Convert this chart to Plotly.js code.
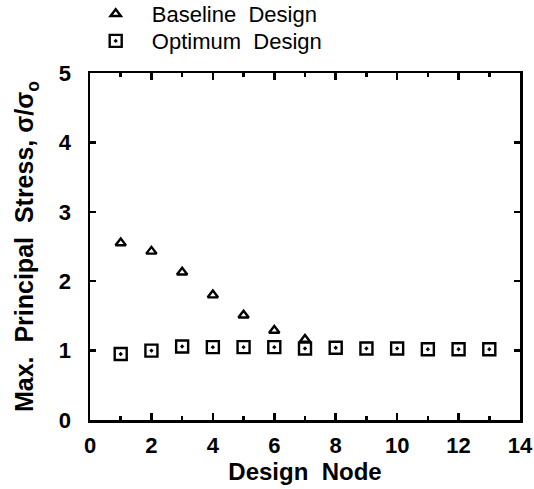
<!DOCTYPE html>
<html>
<head>
<meta charset="utf-8">
<script src="https://cdn.plot.ly/plotly-3.0.1.min.js"></script>
<style>html,body{margin:0;padding:0;background:#fff;}#chart{width:534px;height:489px;}</style>
</head>
<body>
<div id="chart"></div>
<script>
var baselineNodes = [1, 2, 3, 4, 5, 6, 7];
var baselineStress = [2.55, 2.43, 2.13, 1.80, 1.51, 1.29, 1.16];
var optimumNodes = [1, 2, 3, 4, 5, 6, 7, 8, 9, 10, 11, 12, 13];
var optimumStress = [0.95, 1.00, 1.06, 1.05, 1.05, 1.05, 1.03, 1.04, 1.03, 1.03, 1.02, 1.02, 1.02];

var S = '\u00A0';
var FONT = 'Liberation Sans, Arial, Helvetica, sans-serif';

var traces = [
  {x: baselineNodes, y: baselineStress, name: S + 'Baseline' + S + S + 'Design', mode: 'markers', type: 'scatter',
   legend: 'legend',
   marker: {symbol: 'triangle-up-open', size: 9, color: '#000', line: {width: 2.4, color: '#000'}}},
  {x: optimumNodes, y: optimumStress, name: S + 'Optimum' + S + S + 'Design', mode: 'markers', type: 'scatter',
   legend: 'legend2',
   marker: {symbol: 'square-open-dot', size: 12, color: '#000', line: {width: 2.4, color: '#000'}}}
];

var legendCommon = {xanchor: 'left', yanchor: 'middle', bgcolor: 'rgba(0,0,0,0)', itemwidth: 50,
                    font: {size: 22, family: FONT, color: '#000'}};

var layout = {
  width: 534, height: 489,
  margin: {l: 90, r: 14, t: 73, b: 69, pad: 0, autoexpand: false},
  paper_bgcolor: '#fff', plot_bgcolor: '#fff',
  font: {family: FONT, color: '#000'},
  showlegend: true,
  legend: Object.assign({x: -0.01, y: 1.17}, legendCommon),
  legend2: Object.assign({x: -0.01, y: 1.092}, legendCommon),
  xaxis: {range: [0, 14], dtick: 2, tick0: 0, ticks: 'inside', ticklen: 7, tickwidth: 2.5, tickcolor: '#000',
          minor: {dtick: 1, tick0: 0, ticks: 'inside', ticklen: 4, tickwidth: 2.5, tickcolor: '#000', showgrid: false},
          showline: true, linewidth: 2.5, linecolor: '#000', mirror: 'ticks', showgrid: false, zeroline: false,
          tickfont: {size: 22, family: FONT, weight: 'bold'}, ticklabelstandoff: 4,
          title: {text: '<b>Design' + S + S + 'Node</b>', font: {size: 24}, standoff: 0}},
  yaxis: {range: [0, 5], dtick: 1, tick0: 0, ticks: 'inside', ticklen: 6, tickwidth: 2.5, tickcolor: '#000',
          showline: true, linewidth: 2.5, linecolor: '#000', mirror: 'ticks', showgrid: false, zeroline: false,
          tickfont: {size: 22, family: FONT, weight: 'bold'}, ticklabelstandoff: 12,
          title: {text: '<b>Max.' + S + S + 'Principal' + S + S + 'Stress,' + S + 'σ/σ<sub>o</sub></b>', font: {size: 25}, standoff: 18}}
};

Plotly.newPlot('chart', traces, layout, {displayModeBar: false, staticPlot: true});
</script>
</body>
</html>
